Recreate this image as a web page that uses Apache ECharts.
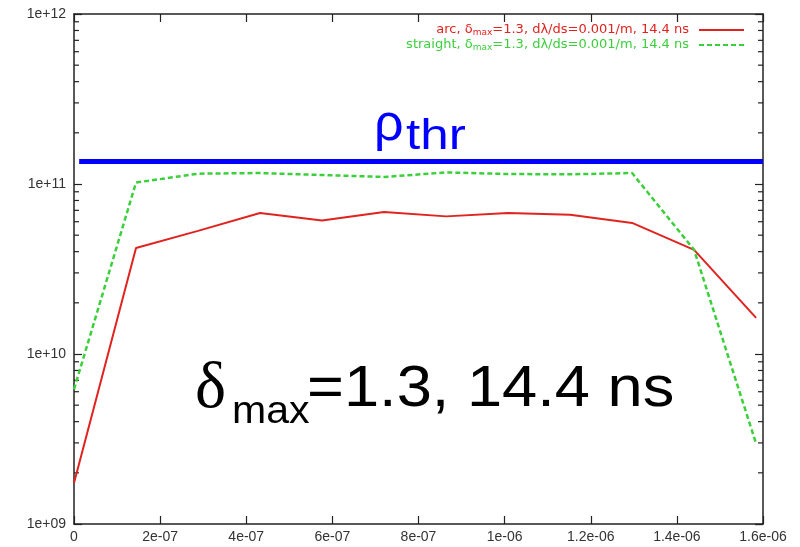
<!DOCTYPE html>
<html>
<head>
<meta charset="utf-8">
<title>Electron cloud density vs time</title>
<script src="https://cdn.jsdelivr.net/npm/echarts@6/dist/echarts.min.js"></script>
<style>
  html, body { margin: 0; padding: 0; background: #fff; }
  #chart { width: 800px; height: 547px; }
</style>
</head>
<body>
<div id="chart"></div>
<script>
// time along the bunch train [s]
const timeValues = [0, 1.44e-7, 2.88e-7, 4.32e-7, 5.76e-7, 7.2e-7, 8.64e-7, 1.008e-6, 1.152e-6, 1.296e-6, 1.44e-6, 1.584e-6];
// central cloud density, arc (solid) and straight (dashed) sections
const arcValues = [1.74e9, 4.2e10, 5.3e10, 6.75e10, 6.1e10, 6.85e10, 6.45e10, 6.75e10, 6.6e10, 5.9e10, 4.1e10, 1.63e10];
const straightValues = [6.2e9, 1.02e11, 1.15e11, 1.16e11, 1.13e11, 1.1e11, 1.17e11, 1.145e11, 1.14e11, 1.16e11, 4.1e10, 2.97e9];
// instability threshold density
const rhoThreshold = 1.37e11;
// axis tick labels
const xTickLabels = ['0', '2e-07', '4e-07', '6e-07', '8e-07', '1e-06', '1.2e-06', '1.4e-06', '1.6e-06'];
const yTickLabels = ['1e+09', '1e+10', '1e+11', '1e+12'];
const seriesNames = ['arc', 'straight'];

const X_MIN = 0, X_MAX = 1.6e-6, X_STEP = 2e-7;
const Y_MIN = 1e9, Y_MAX = 1e12;
const RED = '#e0231f';
const GREEN = '#3ccf3c';
const FRAME = '#222';

// minor ticks of the log axis (2..9 in each decade)
const minorTickValues = [];
for (let e = 9; e < 12; e++) {
  for (let k = 2; k <= 9; k++) minorTickValues.push([X_MIN, k * Math.pow(10, e)]);
}

const chart = echarts.init(document.getElementById('chart'), null, { renderer: 'canvas' });

function xLabel(v) {
  const i = Math.round(v / X_STEP);
  return xTickLabels[i] !== undefined ? xTickLabels[i] : '';
}
function yLabel(v) {
  const i = Math.round(Math.log10(v)) - 9;
  return yTickLabels[i] !== undefined ? yTickLabels[i] : '';
}

const axisFont = { fontFamily: 'Liberation Sans', fontSize: 14, color: '#333' };

function xAxisCfg(pos, showLabel) {
  return {
    type: 'value', position: pos, min: X_MIN, max: X_MAX, interval: X_STEP,
    axisLine: { show: true, onZero: false, lineStyle: { color: FRAME, width: 1.5 } },
    axisTick: { show: true, inside: true, length: 8, lineStyle: { color: FRAME, width: 1.2 } },
    axisLabel: Object.assign({ show: showLabel, margin: 6, formatter: xLabel }, axisFont),
    splitLine: { show: false }
  };
}
function yAxisCfg(pos, showLabel) {
  return {
    type: 'log', logBase: 10, position: pos, min: Y_MIN, max: Y_MAX,
    axisLine: { show: true, onZero: false, lineStyle: { color: FRAME, width: 1.5 } },
    axisTick: { show: true, inside: true, length: 8, lineStyle: { color: FRAME, width: 1.2 } },
    axisLabel: Object.assign({ show: showLabel, margin: 8, formatter: yLabel }, axisFont),
    splitLine: { show: false }
  };
}

const LEGEND_FONT = 'DejaVu Sans';
function legendCfg(name, color, topPx) {
  return {
    data: [name],
    right: 55, top: topPx,
    orient: 'vertical', align: 'right',
    padding: 0,
    itemWidth: 45, itemHeight: 10,
    selectedMode: false,
    itemStyle: { opacity: 0 },
    formatter: function (n) {
      return '{a|' + n + ', \u03b4}{s|max}{a|=1.3, d\u03bb/ds=0.001/m, 14.4 ns}';
    },
    textStyle: {
      color: color,
      fontFamily: LEGEND_FONT,
      fontSize: 13,
      padding: [0, 5, 0, 0],
      rich: {
        a: { color: color, fontFamily: LEGEND_FONT, fontSize: 13, lineHeight: 14, verticalAlign: 'top' },
        s: { color: color, fontFamily: LEGEND_FONT, fontSize: 9, lineHeight: 14, verticalAlign: 'bottom', padding: [6, 0, 0, 0] }
      }
    }
  };
}

const option = {
  animation: false,
  backgroundColor: '#ffffff',
  grid: { left: 74, right: 37, top: 14, bottom: 23, containLabel: false },
  xAxis: [xAxisCfg('bottom', true), xAxisCfg('top', false)],
  yAxis: [yAxisCfg('left', true), yAxisCfg('right', false)],
  legend: [legendCfg(seriesNames[0], RED, 22), legendCfg(seriesNames[1], GREEN, 37)],
  series: [
    {
      name: seriesNames[0], type: 'line', xAxisIndex: 0, yAxisIndex: 0,
      data: timeValues.map((t, i) => [t, arcValues[i]]),
      showSymbol: false, symbol: 'none',
      lineStyle: { color: RED, width: 2 },
      itemStyle: { color: RED },
      z: 3,
      markLine: {
        silent: true, symbol: 'none', animation: false,
        label: { show: false },
        lineStyle: { color: '#0000ff', width: 5, type: 'solid' },
        data: [[{ coord: [1.2e-8, rhoThreshold] }, { coord: [X_MAX, rhoThreshold] }]]
      }
    },
    {
      name: seriesNames[1], type: 'line', xAxisIndex: 0, yAxisIndex: 0,
      data: timeValues.map((t, i) => [t, straightValues[i]]),
      showSymbol: false, symbol: 'none',
      lineStyle: { color: GREEN, width: 2.5, type: [5, 3] },
      itemStyle: { color: GREEN },
      z: 4
    },
    {
      // minor log ticks on the left and right frame
      type: 'custom', xAxisIndex: 0, yAxisIndex: 0, silent: true, clip: false,
      data: minorTickValues,
      renderItem: function (params, api) {
        const left = api.coord([X_MIN, api.value(1)]);
        const right = api.coord([X_MAX, api.value(1)]);
        const st = { stroke: FRAME, lineWidth: 1.2 };
        return {
          type: 'group',
          children: [
            { type: 'line', shape: { x1: left[0], y1: left[1], x2: left[0] + 5, y2: left[1] }, style: st },
            { type: 'line', shape: { x1: right[0], y1: right[1], x2: right[0] - 5, y2: right[1] }, style: st }
          ]
        };
      }
    }
  ],
  graphic: [
    { type: 'text', x: 374, y: 126, style: { text: '\u03c1', font: '52px "Liberation Sans"', fill: '#0000ff', align: 'left', verticalAlign: 'middle' }, z: 10 },
    { type: 'text', x: 406, y: 137, scaleX: 1.22, style: { text: 'thr', font: '42px "Liberation Sans"', fill: '#0000ff', align: 'left', verticalAlign: 'middle' }, z: 10 },
    { type: 'text', x: 195, y: 390, style: { text: '\u03b4', font: '66px "Liberation Serif"', fill: '#000', align: 'left', verticalAlign: 'middle' }, z: 10 },
    { type: 'text', x: 232, y: 413, scaleX: 1.08, style: { text: 'max', font: '38px "Liberation Sans"', fill: '#000', align: 'left', verticalAlign: 'middle' }, z: 10 },
    { type: 'text', x: 307, y: 390, scaleX: 1.09, style: { text: '=1.3, 14.4 ns', font: '58px "Liberation Sans"', fill: '#000', align: 'left', verticalAlign: 'middle' }, z: 10 }
  ]
};

chart.setOption(option);
</script>
</body>
</html>
